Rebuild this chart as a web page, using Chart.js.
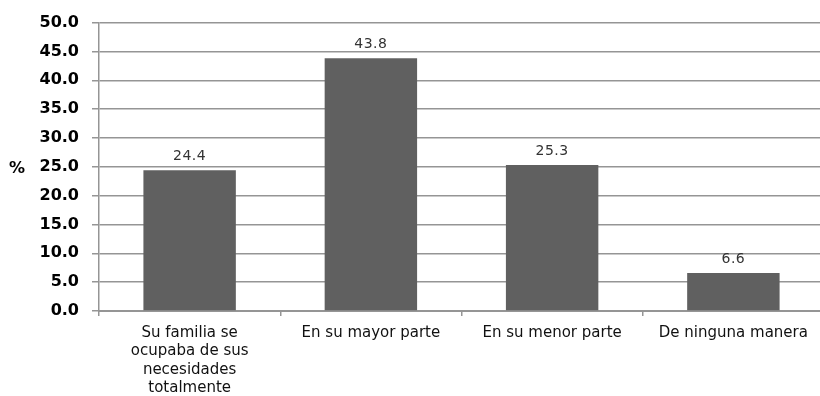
<!DOCTYPE html>
<html>
<head>
<meta charset="utf-8">
<script src="https://cdn.jsdelivr.net/npm/chart.js@4"></script>
<style>
  html, body { margin: 0; padding: 0; background: #fff; overflow: hidden; }
  #wrap { width: 824px; height: 396px; }
</style>
</head>
<body>
<div id="wrap"><canvas id="barChart" width="824" height="396"></canvas></div>
<script>
const categorias = [
    ["Su familia se", "ocupaba de sus", "necesidades", "totalmente"],
    "En su mayor parte",
    "En su menor parte",
    "De ninguna manera"
];
const porcentajes = [24.4, 43.8, 25.3, 6.6];
const tituloY = "%";

// etiquetas de valor encima de cada barra
const etiquetasValor = {
    id: 'etiquetasValor',
    afterDatasetsDraw(chart) {
        const ctx = chart.ctx;
        const meta = chart.getDatasetMeta(0);
        ctx.save();
        ctx.font = '14px "DejaVu Sans"';
        ctx.letterSpacing = '0.5px';
        ctx.fillStyle = '#333';
        ctx.textAlign = 'center';
        ctx.textBaseline = 'alphabetic';
        meta.data.forEach((bar, i) => {
            ctx.fillText(porcentajes[i].toFixed(1), bar.x, bar.y - 10);
        });
        ctx.restore();
    }
};

// titulo horizontal del eje y
const tituloEjeY = {
    id: 'tituloEjeY',
    afterDraw(chart) {
        const ctx = chart.ctx;
        const area = chart.chartArea;
        ctx.save();
        ctx.font = 'bold 16px "DejaVu Sans"';
        ctx.fillStyle = '#000';
        ctx.textAlign = 'center';
        ctx.textBaseline = 'middle';
        ctx.fillText(tituloY, 17, (area.top + area.bottom) / 2 + 2);
        ctx.restore();
    }
};

const ctx = document.getElementById('barChart').getContext('2d');

const barChart = new Chart(ctx, {
    type: 'bar',
    data: {
        labels: categorias,
        datasets: [{
            data: porcentajes,
            backgroundColor: '#606060',
            borderWidth: 0,
            categoryPercentage: 1,
            barPercentage: 0.51
        }]
    },
    options: {
        responsive: false,
        animation: false,
        layout: { padding: { top: 22, left: 0, right: 0, bottom: 0 } },
        plugins: {
            legend: { display: false },
            tooltip: { enabled: false }
        },
        scales: {
            y: {
                min: 0,
                max: 50,
                ticks: {
                    stepSize: 5,
                    padding: 13,
                    color: '#000',
                    font: { family: 'DejaVu Sans', size: 16, weight: 'bold' },
                    callback: v => v.toFixed(1)
                },
                grid: {
                    color: '#959595',
                    lineWidth: 1.5,
                    tickLength: 7,
                    tickColor: '#959595'
                },
                border: { color: '#959595', width: 1.5 },
                afterFit(scale) { scale.width = 99; }
            },
            x: {
                ticks: {
                    padding: 8,
                    color: '#111',
                    font: { family: 'DejaVu Sans', size: 15, lineHeight: 1.22 },
                    maxRotation: 0,
                    autoSkip: false
                },
                grid: {
                    drawOnChartArea: false,
                    offset: true,
                    tickLength: 5,
                    tickColor: '#959595',
                    lineWidth: 1.5
                },
                border: { color: '#959595', width: 2 },
                afterFit(scale) { scale.height = 85; }
            }
        }
    },
    plugins: [etiquetasValor, tituloEjeY]
});
</script>
</body>
</html>
